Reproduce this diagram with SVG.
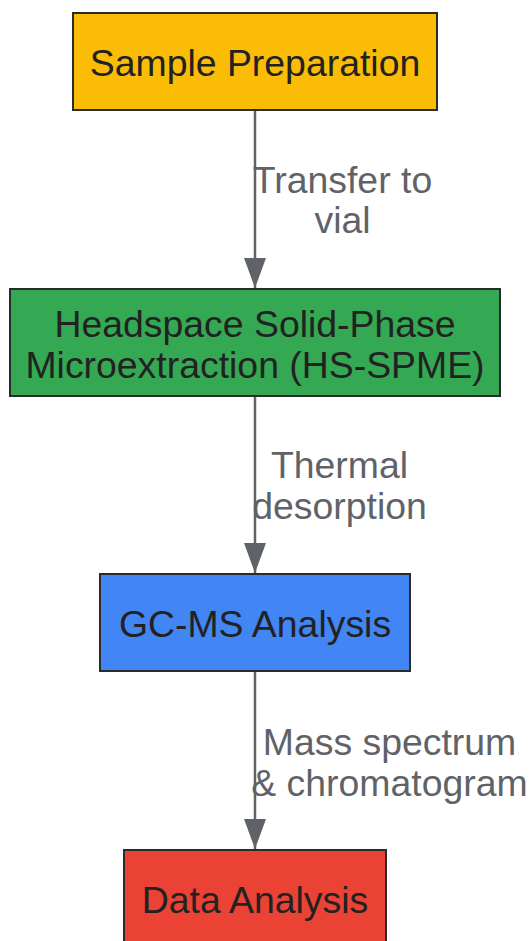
<svg xmlns="http://www.w3.org/2000/svg" width="530" height="941" viewBox="0 0 530 941">
<style>
.box{stroke:#2b2b2b;stroke-width:2}
.nt{font-family:"Liberation Sans",Arial,sans-serif;font-size:37.4px;fill:#222;text-anchor:middle}
.lt{font-family:"Liberation Sans",Arial,sans-serif;font-size:37.4px;fill:#5f6368;text-anchor:middle}
.edge{stroke:#5f6368;stroke-width:2.5;fill:none}
</style>
<defs>
<marker id="ah" markerUnits="userSpaceOnUse" markerWidth="30" markerHeight="22" refX="30" refY="11" orient="auto" viewBox="0 0 30 22">
<path d="M0,0 L30,11 L0,22 Z" fill="#5f6368"/>
</marker>
</defs>
<rect width="530" height="941" fill="#fff"/>
<g id="edges">
<line class="edge" x1="255" y1="110" x2="255" y2="288" marker-end="url(#ah)"/>
<line class="edge" x1="255" y1="396" x2="255" y2="573" marker-end="url(#ah)"/>
<line class="edge" x1="255" y1="671" x2="255" y2="849" marker-end="url(#ah)"/>
<text class="lt" x="342.5" y="193">Transfer to</text>
<text class="lt" x="342.5" y="233">vial</text>
<text class="lt" x="339.5" y="478">Thermal</text>
<text class="lt" x="339.5" y="519">desorption</text>
<text class="lt" x="389.5" y="755">Mass spectrum</text>
<text class="lt" x="389.5" y="796">&amp; chromatogram</text>
</g>
<g id="sample-preparation">
<rect class="box" x="73" y="13" width="364" height="97" fill="#FBBC05"/>
<text class="nt" x="255" y="76">Sample Preparation</text>
</g>
<g id="hs-spme">
<rect class="box" x="10" y="289" width="490" height="107" fill="#34A853"/>
<text class="nt" x="255" y="337">Headspace Solid-Phase</text>
<text class="nt" x="255" y="378">Microextraction (HS-SPME)</text>
</g>
<g id="gc-ms">
<rect class="box" x="100" y="574" width="310" height="97" fill="#4285F4"/>
<text class="nt" x="255" y="637">GC-MS Analysis</text>
</g>
<g id="data-analysis">
<rect class="box" x="124" y="850" width="262" height="97" fill="#EA4335"/>
<text class="nt" x="255" y="913">Data Analysis</text>
</g>
</svg>
